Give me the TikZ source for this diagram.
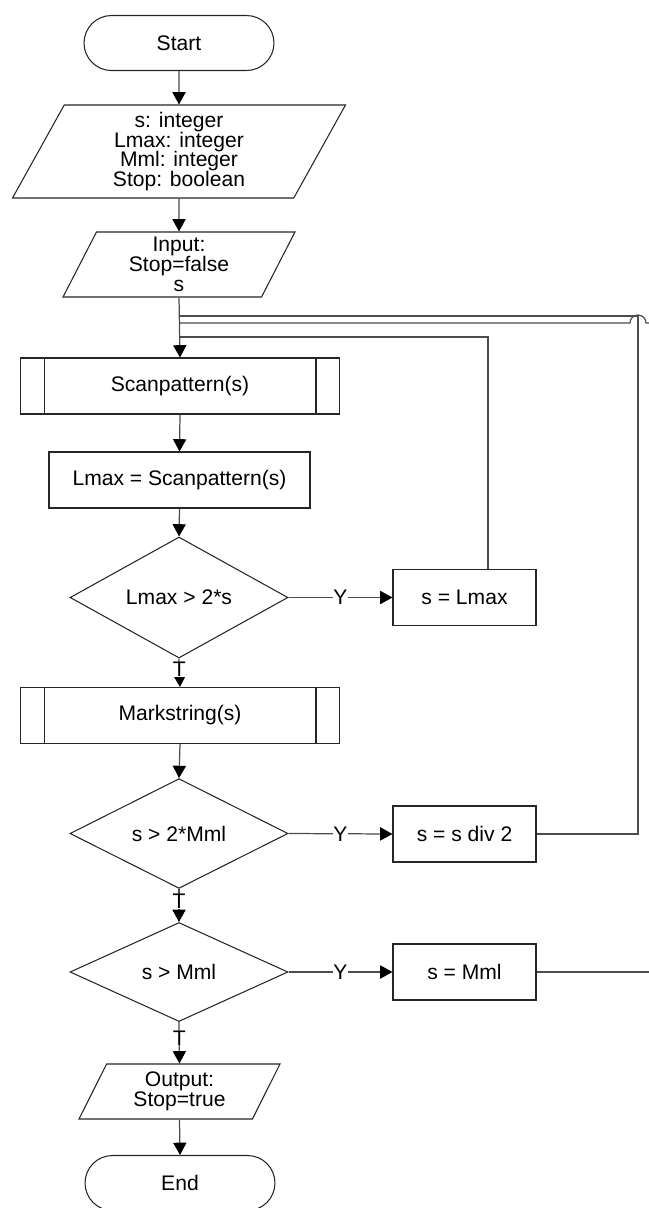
\documentclass[tikz,border=0pt]{standalone}
\usepackage{fontspec}
\setmainfont{Liberation Sans}
\usetikzlibrary{shapes.geometric,arrows.meta}

\tikzset{
  every node/.style={font=\fontsize{12pt}{11.3pt}\selectfont, align=center, inner sep=1pt},
  box/.style={draw=black!85, line width=0.6pt, rectangle, minimum height=1.12cm},
  termbox/.style={box, rounded corners=0.55cm, minimum width=3.8cm, minimum height=1.1cm},
  iobox/.style={draw=black!85, line width=0.6pt, trapezium, trapezium stretches body},
  subproc/.style={box, path picture={
    \draw[black!85, line width=0.6pt] ([xshift=0.48cm]path picture bounding box.north west) -- ([xshift=0.48cm]path picture bounding box.south west);
    \draw[black!85, line width=0.6pt] ([xshift=-0.48cm]path picture bounding box.north east) -- ([xshift=-0.48cm]path picture bounding box.south east);}},
  decision/.style={draw=black!85, line width=0.6pt, diamond, minimum width=4.36cm, minimum height=1.98cm, inner sep=0pt},
  line/.style={draw=black!70, line width=0.7pt},
  flow/.style={line, -{Triangle[length=7pt,width=7.5pt,color=black]}},
  tag/.style={fill=white, inner sep=0pt}
}

\begin{document}
\begin{tikzpicture}[x=0.02cm,y=-0.02cm]
\useasboundingbox (0,0) rectangle (649,1208);

\node[termbox] (start) at (179,43) {Start};
\node[iobox, trapezium left angle=58, trapezium right angle=122, minimum width=6.66cm, minimum height=1.86cm] (decl) at (179,151.5) {s: integer\\Lmax: integer\\Mml: integer\\Stop: boolean};
\node[iobox, trapezium left angle=60, trapezium right angle=120, minimum width=4.64cm, minimum height=1.3cm] (input) at (179,264.5) {Input:\\Stop=false\\s};
\node[subproc, minimum width=6.4cm] (scan) at (180,386) {Scanpattern(s)};
\node[box, minimum width=5.22cm] (lmax) at (179.5,480) {Lmax = Scanpattern(s)};
\node[decision] (lcheck) at (179,597.5) {Lmax > 2*s};
\node[box, minimum width=2.86cm] (setlmax) at (464.5,597.5) {s = Lmax};
\node[subproc, minimum width=6.4cm] (mark) at (180,715.5) {Markstring(s)};
\node[decision] (scheck) at (179,833.5) {s > 2*Mml};
\node[box, minimum width=2.86cm] (halve) at (464.5,834) {s = s div 2};
\node[decision] (mcheck) at (179,972) {s > Mml};
\node[box, minimum width=2.86cm] (setmml) at (464.5,972) {s = Mml};
\node[iobox, trapezium left angle=57, trapezium right angle=123, minimum width=4.02cm, minimum height=1.1cm] (output) at (179.5,1091.5) {Output:\\Stop=true};
\node[termbox] (stop) at (180,1183) {End};

\coordinate (loopa) at (179,337);
\coordinate (loopb) at (179,316);
\coordinate (loopc) at (179,323);
\coordinate (turnb) at (638,316);
\coordinate (mmlout) at (649,972);
\coordinate (mmlin) at (649,323);
\coordinate (hop) at (646,323);

\draw[flow] (start.south) -- (decl.north);
\draw[flow] (decl.south) -- (input.north);
\draw[flow] (input.south) -- (scan.north);
\draw[flow] (scan.south) -- (lmax.north);
\draw[flow] (lmax.south) -- (lcheck.north);
\draw[flow] (lcheck.east) -- node[tag] {Y} (setlmax.west);
\draw[flow] (lcheck.south) -- node[tag, pos=0.38] {T} (mark.north);
\draw[flow] (mark.south) -- (scheck.north);
\draw[flow] (scheck.east) -- node[tag] {Y} (halve.west);
\draw[flow] (scheck.south) -- node[tag, pos=0.38] {T} (mcheck.north);
\draw[flow] (mcheck.east) -- node[tag] {Y} (setmml.west);
\draw[flow] (mcheck.south) -- node[tag, pos=0.38] {T} (output.north);
\draw[flow] (output.south) -- (stop.north);

\draw[line] ([xshift=0.47cm]setlmax.north) |- (loopa);
\draw[line] (halve.east) -| (turnb) -- (loopb);
\draw[line] (setmml.east) -- (mmlout);
\draw[line] (mmlin) -- (hop) arc[start angle=0, end angle=180, radius=0.16cm] -- (loopc);
\end{tikzpicture}
\end{document}
